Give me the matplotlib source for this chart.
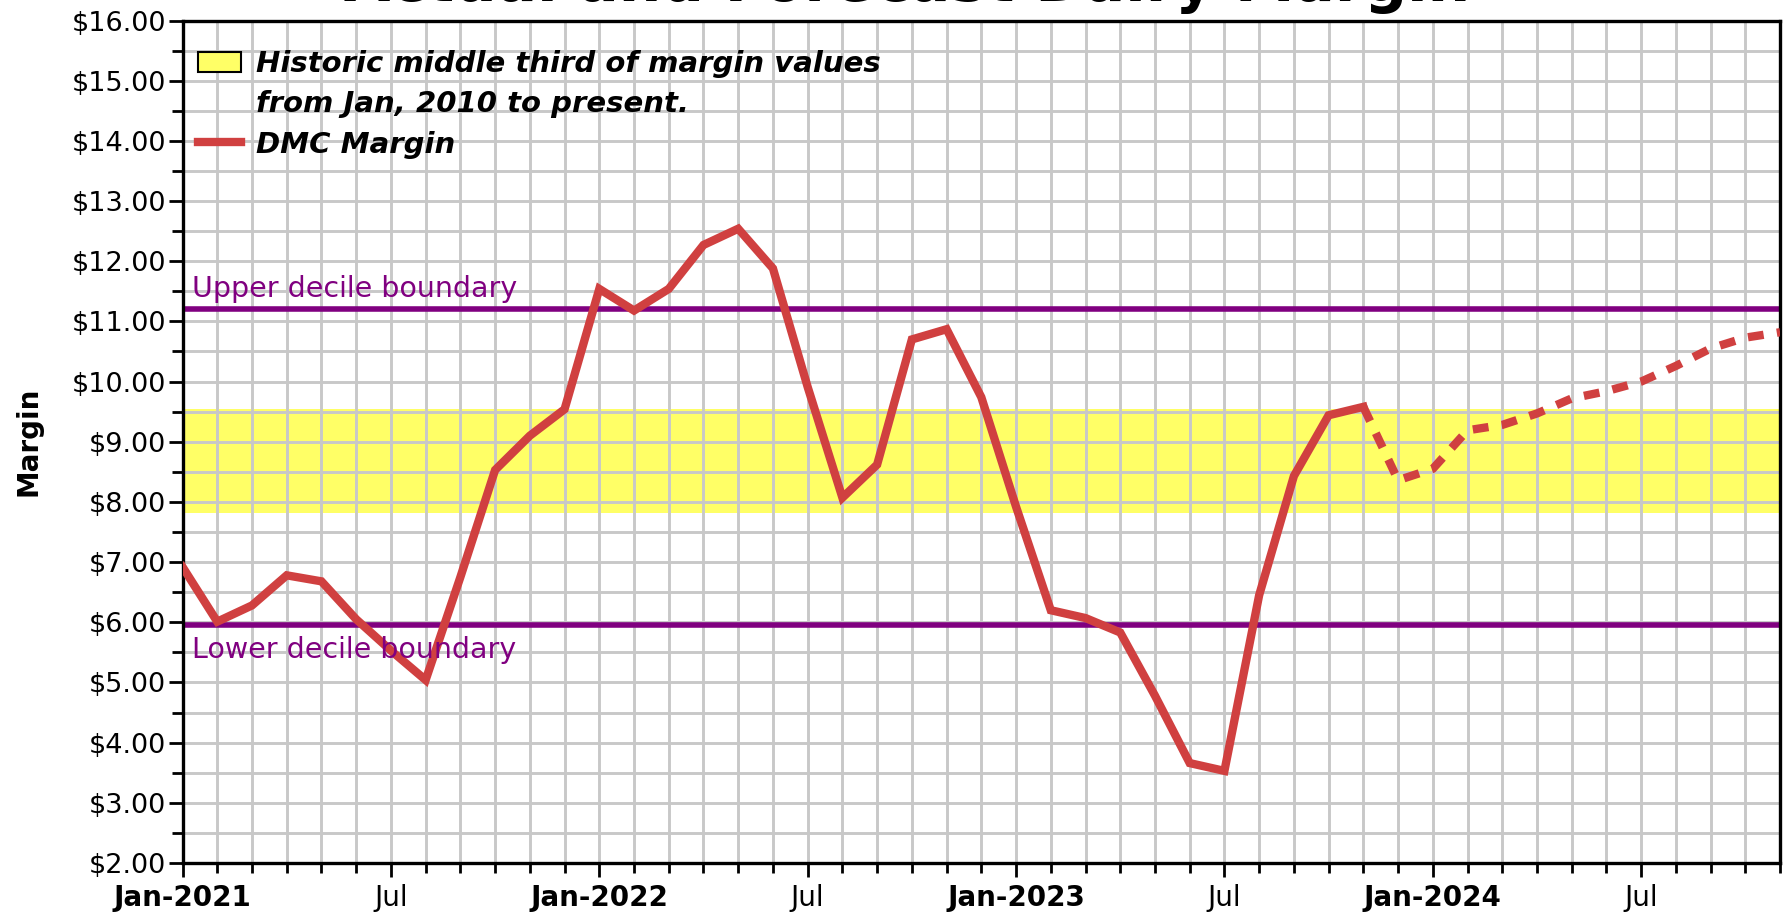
import matplotlib
matplotlib.use('Agg')
import matplotlib.pyplot as plt
from matplotlib.patches import Patch
from matplotlib.lines import Line2D
from matplotlib.ticker import MultipleLocator, FuncFormatter

# month index 0 = Jan 2021
actual_months = list(range(0, 35))
actual_margin = [6.92, 6.01, 6.28, 6.78, 6.68, 6.05, 5.53, 5.04, 6.75, 8.53,
                 9.10, 9.54, 11.54, 11.18, 11.54, 12.27, 12.54, 11.88, 9.91, 8.07,
                 8.62, 10.70, 10.87, 9.74, 7.92, 6.20, 6.07, 5.83, 4.78, 3.66,
                 3.53, 6.45, 8.43, 9.44, 9.58]

forecast_months = list(range(34, 47))
forecast_margin = [9.58, 8.36, 8.55, 9.19, 9.28, 9.47, 9.72, 9.84, 10.00, 10.26,
                   10.55, 10.73, 10.82]

band_low, band_high = 7.81, 9.54
upper_decile = 11.21
lower_decile = 5.95

tick_months = [0, 6, 12, 18, 24, 30, 36, 42]
tick_labels = ['Jan-2021', 'Jul', 'Jan-2022', 'Jul', 'Jan-2023', 'Jul', 'Jan-2024', 'Jul']

red = '#d04040'
purple = '#800080'
yellow = '#ffff66'

fig = plt.figure(figsize=(17.86, 9.16), dpi=100)
ax = fig.add_axes([0.1022, 0.0579, 0.8945, 0.9197])

# historic band + decile boundaries
ax.axhspan(band_low, band_high, color=yellow, lw=0, zorder=0)
ax.axhline(upper_decile, color=purple, lw=4, zorder=2)
ax.axhline(lower_decile, color=purple, lw=4, zorder=2)
ax.text(0.26, upper_decile + 0.19, 'Upper decile boundary', color=purple,
        fontsize=20.5, va='baseline', ha='left', zorder=4)
ax.text(0.26, lower_decile - 0.54, 'Lower decile boundary', color=purple,
        fontsize=20.5, va='baseline', ha='left', zorder=4)

# margin line: actual solid, forecast dashed
ax.plot(actual_months, actual_margin, color=red, lw=6, solid_joinstyle='miter', zorder=3)
ax.plot(forecast_months, forecast_margin, color=red, lw=6, ls=(0, (1.9, 1.6)),
        dash_capstyle='butt', zorder=3)

ax.set_xlim(0, 46)
ax.set_ylim(2, 16)

# grid every month / every 50 cents
ax.xaxis.set_minor_locator(MultipleLocator(1))
ax.yaxis.set_major_locator(MultipleLocator(1))
ax.yaxis.set_minor_locator(MultipleLocator(0.5))
ax.set_axisbelow(True)
ax.grid(which='both', color='#c8c8c8', lw=2.1)

ax.set_xticks(tick_months)
ax.set_xticklabels(tick_labels)
for lab in ax.get_xticklabels():
    if lab.get_text().startswith('Jan'):
        lab.set_fontweight('bold')
ax.yaxis.set_major_formatter(FuncFormatter(lambda v, p: f'${v:.2f}'))

ax.tick_params(axis='y', which='major', length=10, width=2, labelsize=19.5, pad=2)
ax.tick_params(axis='y', which='minor', length=8, width=2)
ax.tick_params(axis='x', which='major', length=10, width=2, labelsize=20, pad=5)
ax.tick_params(axis='x', which='minor', length=7, width=2)
for s in ax.spines.values():
    s.set_linewidth(2.4)

fig.text(0.0157, 0.5177, 'Margin', rotation=90, ha='center', va='center',
         fontsize=20, fontweight='bold')
# title sits mostly above the canvas, as in the source image
fig.text(0.508, 0.999, 'Actual and Forecast Dairy Margin', ha='center',
         va='baseline', fontsize=43, fontweight='bold')

handles = [Patch(facecolor=yellow, edgecolor='black', lw=1.5),
           Patch(facecolor='none', edgecolor='none'),
           Line2D([0], [0], color=red, lw=6)]
labels = ['Historic middle third of margin values', 'from Jan, 2010 to present.', 'DMC Margin']
ax.legend(handles, labels, loc='upper left', bbox_to_anchor=(0.0094, 0.965),
          borderpad=0, borderaxespad=0, frameon=False, handlelength=1.5,
          handletextpad=0.5, labelspacing=0.42,
          prop={'weight': 'bold', 'style': 'italic', 'size': 21})

fig.savefig('out.png', dpi=100)
